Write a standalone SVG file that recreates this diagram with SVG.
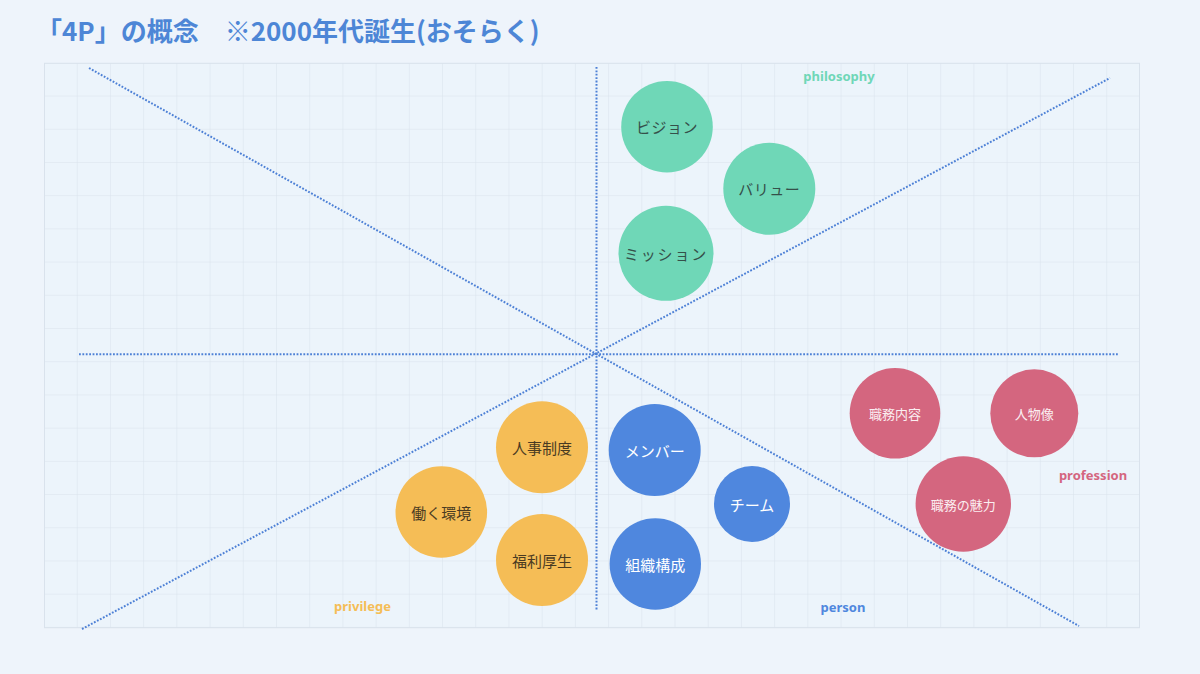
<svg xmlns="http://www.w3.org/2000/svg" width="1200" height="674" viewBox="0 0 1200 674">
<defs>
<style>
.grid{stroke:#d9e2ec;stroke-width:1;fill:none}
.ax{stroke:#4d80d6;stroke-width:2;stroke-dasharray:1.8 1.6;fill:none}
.t{font-family:"Noto Sans CJK JP","Noto Sans",sans-serif;text-anchor:middle;dominant-baseline:central}
.g{fill:#6fd7b7}.r{fill:#d4667f}.y{fill:#f5bd56}.b{fill:#4f87de}
.gt{fill:#35504a;font-size:15px}
.rt{fill:#fbeef1;font-size:13px}
.yt{fill:#4a3b22;font-size:15px}
.bt{fill:#ffffff;font-size:15px}
.lab{font-family:"Noto Sans","Open Sans",sans-serif;font-weight:bold;font-size:13px;text-anchor:middle;dominant-baseline:central}
</style>
<pattern id="gp" x="44.5" y="63.3" width="33.21" height="33.21" patternUnits="userSpaceOnUse">
<path d="M33.21 0V33.21M0 33.21H33.21" class="grid"/>
</pattern>
</defs>
<rect width="1200" height="674" fill="#eef4fb"/>
<text x="36" y="40.5" font-family="Noto Sans CJK JP,sans-serif" font-weight="bold" font-size="26" fill="#4d86d6">「4P」の概念　※2000年代誕生(おそらく)</text>
<g id="grid">
<rect x="44.5" y="63.3" width="1095" height="564.4" fill="#ecf4fb"/>
<rect x="44.5" y="63.3" width="1095" height="564.4" fill="url(#gp)"/>
<rect x="44.5" y="63.3" width="1095" height="564.4" class="grid"/>
</g>
<g id="connectors">
<line class="ax" x1="89" y1="68" x2="1079" y2="626"/>
<line class="ax" x1="82" y1="629" x2="1110" y2="78"/>
<line class="ax" x1="79" y1="354.3" x2="1118" y2="354.3"/>
<line class="ax" x1="596.5" y1="67" x2="596.5" y2="610"/>
</g>
<g id="philosophy">
<text class="lab" x="839" y="76" fill="#6fd7b7">philosophy</text>
<g id="vision"><circle class="g" cx="667" cy="126.7" r="45.8"/><text class="t gt" x="667" y="126.7" letter-spacing="0.5">ビジョン</text></g>
<g id="value"><circle class="g" cx="769.3" cy="188.7" r="46"/><text class="t gt" x="769.3" y="188.7" letter-spacing="0.5">バリュー</text></g>
<g id="mission"><circle class="g" cx="666" cy="253.3" r="47.5"/><text class="t gt" x="666" y="253.3" font-size="14" letter-spacing="1.8">ミッション</text></g>
</g>
<g id="profession">
<text class="lab" x="1093" y="475" fill="#d4667f">profession</text>
<g id="job"><circle class="r" cx="895" cy="413.3" r="45.3"/><text class="t rt" x="895" y="413.3">職務内容</text></g>
<g id="persona"><circle class="r" cx="1034.3" cy="413.3" r="44"/><text class="t rt" x="1034.3" y="413.3">人物像</text></g>
<g id="appeal"><circle class="r" cx="963.3" cy="504" r="47.7"/><text class="t rt" x="963.3" y="504">職務の魅力</text></g>
</g>
<g id="privilege">
<text class="lab" x="362.5" y="605.5" fill="#f5bd56">privilege</text>
<g id="hr"><circle class="y" cx="542" cy="447.3" r="46"/><text class="t yt" x="542" y="447.3">人事制度</text></g>
<g id="env"><circle class="y" cx="441.3" cy="512" r="45.8"/><text class="t yt" x="441.3" y="512">働く環境</text></g>
<g id="welfare"><circle class="y" cx="542" cy="560" r="46"/><text class="t yt" x="542" y="560">福利厚生</text></g>
</g>
<g id="person">
<text class="lab" x="843" y="607" fill="#4f87de">person</text>
<g id="member"><circle class="b" cx="654.7" cy="450" r="46"/><text class="t bt" x="654.7" y="450">メンバー</text></g>
<g id="team"><circle class="b" cx="752" cy="504" r="38"/><text class="t bt" x="752" y="504">チーム</text></g>
<g id="org"><circle class="b" cx="655.3" cy="564" r="45.7"/><text class="t bt" x="655.3" y="564">組織構成</text></g>
</g>
</svg>
